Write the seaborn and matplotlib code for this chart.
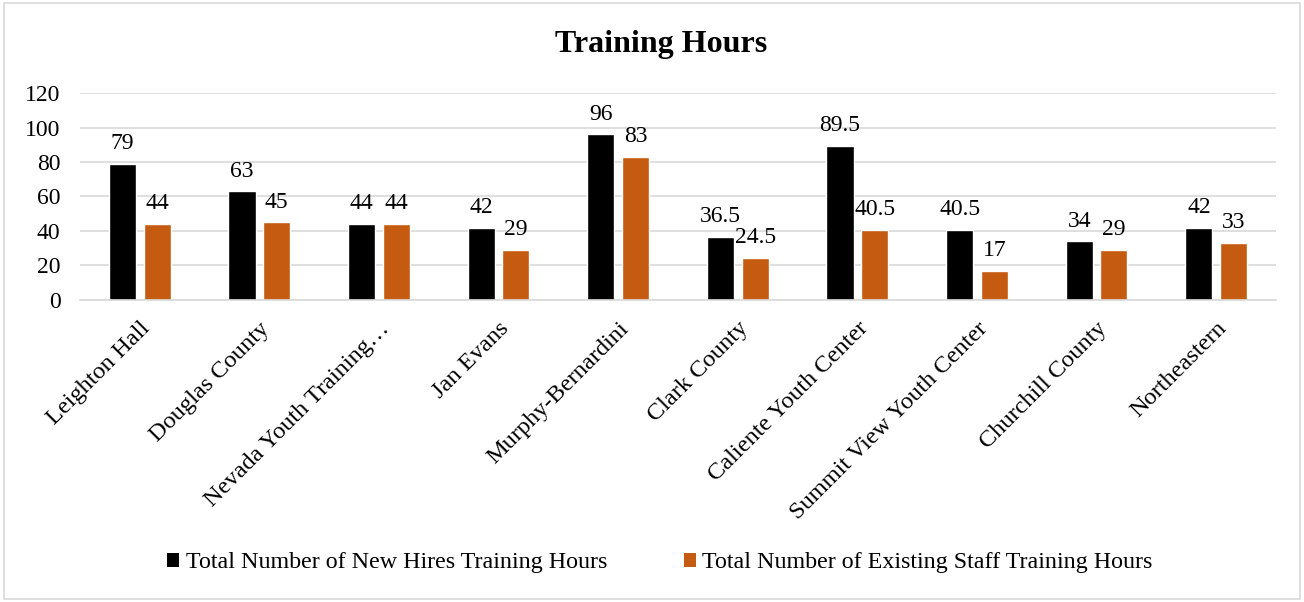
import matplotlib
matplotlib.use("Agg")
import matplotlib.pyplot as plt
import seaborn as sns
import pandas as pd
from matplotlib.patches import Rectangle, Patch

facilities = [
    "Leighton Hall", "Douglas County", "Nevada Youth Training\u2026", "Jan Evans",
    "Murphy-Bernardini", "Clark County", "Caliente Youth Center",
    "Summit View Youth Center", "Churchill County", "Northeastern",
]
new_hires = [79, 63, 44, 42, 96, 36.5, 89.5, 40.5, 34, 42]
existing_staff = [44, 45, 44, 29, 83, 24.5, 40.5, 17, 29, 33]
series_names = [
    "Total Number of New Hires Training Hours",
    "Total Number of Existing Staff Training Hours",
]
colors = ["#000000", "#C55A11"]

sns.set_theme(style="white")
plt.rcParams["font.family"] = ["Liberation Serif", "DejaVu Serif"]
plt.rcParams["text.color"] = "#000000"

df = pd.DataFrame({
    "Facility": facilities * 2,
    "Hours": new_hires + existing_staff,
    "Series": [series_names[0]] * len(facilities) + [series_names[1]] * len(facilities),
})

fig = plt.figure(figsize=(13.04, 6.02), dpi=100)
ax = fig.add_axes([0.0613, 0.5017, 0.9172, 0.3438])

sns.barplot(data=df, x="Facility", y="Hours", hue="Series", order=facilities,
            hue_order=series_names, palette=colors, width=0.58, gap=0.22,
            saturation=1, ax=ax, legend=False)

for cont in ax.containers:
    labels = [f"{v:g}" for v in cont.datavalues]
    ax.bar_label(cont, labels=labels, padding=7, fontsize=17, color="#000000")

ax.set_xlim(-0.5, len(facilities) - 0.5)
ax.set_ylim(0, 120)
ax.set_yticks(range(0, 121, 20))
ax.yaxis.grid(True, color="#D9D9D9", linewidth=1.2)
ax.set_axisbelow(True)
for s in ["top", "right", "left"]:
    ax.spines[s].set_visible(False)
ax.spines["bottom"].set_color("#D9D9D9")
ax.spines["bottom"].set_linewidth(1.2)
ax.set_xlabel("")
ax.set_ylabel("")
ax.tick_params(axis="y", length=0, pad=14, labelsize=17, labelcolor="#000000")
ax.tick_params(axis="x", length=0, pad=13, labelsize=17.6, labelcolor="#000000")
plt.setp(ax.get_xticklabels(), rotation=45, ha="right", va="top",
         rotation_mode="anchor")

fig.text(0.507, 0.926, "Training Hours", ha="center", va="center",
         fontsize=23, fontweight="bold", color="#000000")

handles = [Patch(facecolor=c, edgecolor="none") for c in colors]
fig.legend(handles, series_names, loc="center", bbox_to_anchor=(0.506, 0.065),
           ncol=2, frameon=False, fontsize=17.3, handlelength=0.5,
           handleheight=0.5, handletextpad=0.25, columnspacing=3.2,
           labelcolor="#000000")

fig.patches.append(Rectangle((0.003, 0.005), 0.994, 0.99, transform=fig.transFigure,
                             fill=False, edgecolor="#D9D9D9", linewidth=1.2))

fig.savefig("out.png", dpi=100)
